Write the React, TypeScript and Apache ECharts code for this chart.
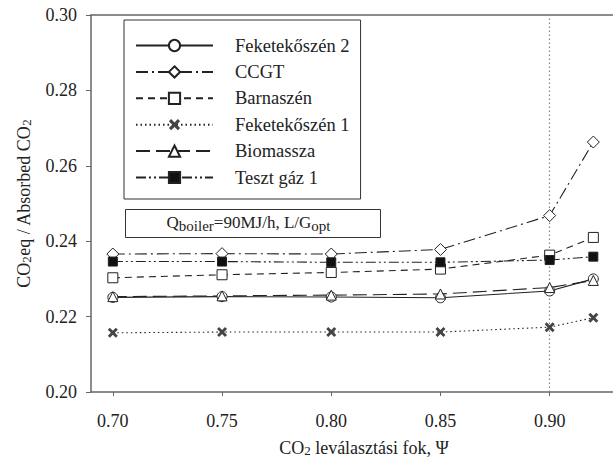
import React, { useEffect, useRef } from "react";
import * as echarts from "echarts";

const xValues = [0.70, 0.75, 0.80, 0.85, 0.90, 0.92];
const feketeKoszen2 = [0.2251, 0.2253, 0.2252, 0.2250, 0.2268, 0.2300];
const ccgt = [0.2366, 0.2367, 0.2366, 0.2378, 0.2468, 0.2663];
const barnaszen = [0.2303, 0.2311, 0.2317, 0.2326, 0.2363, 0.2410];
const feketeKoszen1 = [0.2157, 0.2159, 0.2159, 0.2159, 0.2172, 0.2197];
const biomassza = [0.2253, 0.2255, 0.2257, 0.2260, 0.2277, 0.2296];
const tesztGaz1 = [0.2346, 0.2346, 0.2344, 0.2344, 0.2350, 0.2359];
const xTicks = [0.70, 0.75, 0.80, 0.85, 0.90];
const markX = 0.90;

const FONT = "Liberation Serif";
const INK = "#222";

const xMarker =
  "path://M2,0 L5,3 L8,0 L10,2 L7,5 L10,8 L8,10 L5,7 L2,10 L0,8 L3,5 L0,2 Z";

function pairs(ys: number[]) {
  return xValues.map((x, i) => [x, ys[i]]);
}

export default function App() {
  const ref = useRef<HTMLDivElement>(null);
  useEffect(() => {
    if (!ref.current) return;
    const chart = echarts.init(ref.current, undefined, { renderer: "svg" });
    const mk = (
      name: string,
      ys: number[],
      symbol: string,
      fill: string,
      dash: any,
      extra: any = {}
    ) => ({
      name,
      type: "line",
      data: pairs(ys),
      symbol,
      symbolSize: 10,
      showAllSymbol: true,
      itemStyle: { color: fill, borderColor: INK, borderWidth: 1 },
      lineStyle: { color: INK, width: 1.1, type: dash },
      z: 3,
      ...extra,
    });
    const series: any[] = [
      mk("Feketekőszén 2", feketeKoszen2, "circle", "#fff", "solid", {
        markLine: {
          silent: true,
          symbol: ["none", "none"],
          label: { show: false },
          lineStyle: { color: "#888", type: [1.5, 2.5], width: 1.2 },
          data: [{ xAxis: markX }],
          z: 1,
        },
      }),
      mk("CCGT", ccgt, "diamond", "#fff", [12, 4, 2, 4], { symbolSize: 12 }),
      mk("Barnaszén", barnaszen, "rect", "#fff", [7, 5]),
      mk("Feketekőszén 1", feketeKoszen1, xMarker, "#444", [1.5, 3], {
        itemStyle: { color: "#444", borderWidth: 0 },
        symbolSize: 10,
      }),
      mk("Biomassza", biomassza, "triangle", "#fff", [14, 6]),
      mk("Teszt gáz 1", tesztGaz1, "rect", "#111", [10, 3, 2, 3, 2, 3], { symbolSize: 9 }),
    ];
    const subStyle = {
      fontSize: 13,
      verticalAlign: "bottom",
      fontFamily: FONT,
      color: INK,
      padding: [5, 0, 0, 0],
    };
    chart.setOption({
      animation: false,
      textStyle: { fontFamily: FONT },
      grid: { left: 91, right: 0, top: 15, bottom: 67, outerBoundsMode: "none" },
      legend: {
        orient: "vertical",
        left: 124,
        top: 20,
        itemWidth: 77,
        itemHeight: 14,
        itemGap: 7.4,
        padding: [16, 11, 12, 11],
        borderColor: "#333",
        borderWidth: 1,
        backgroundColor: "#fff",
        textStyle: {
          fontFamily: FONT,
          fontSize: 18.5,
          color: INK,
          padding: [0, 0, 0, 17],
        },
        data: series.map((s) => s.name),
      },
      xAxis: [
        {
          type: "value",
          min: 0.69,
          max: 0.929,
          name: "CO{s|2} leválasztási fok, Ψ",
          nameLocation: "middle",
          nameGap: 47,
          nameTextStyle: {
            fontFamily: FONT,
            fontSize: 18,
            color: INK,
            padding: [0, 0, 0, 24],
            rich: { s: subStyle },
          },
          axisLine: { lineStyle: { color: "#666", width: 1.5 } },
          axisTick: { customValues: xTicks, length: 4, lineStyle: { color: "#666" } },
          axisLabel: {
            customValues: xTicks,
            margin: 20,
            fontSize: 18,
            color: INK,
            fontFamily: FONT,
            formatter: (v: number) => v.toFixed(2),
          },
          splitLine: { show: false },
        },
        {
          type: "value",
          position: "top",
          min: 0.69,
          max: 0.929,
          axisLine: { lineStyle: { color: "#666", width: 1.5 } },
          axisTick: { show: false },
          axisLabel: { show: false },
          splitLine: { show: false },
        },
      ],
      yAxis: {
        type: "value",
        min: 0.2,
        max: 0.3,
        interval: 0.02,
        name: "CO{s|2}eq / Absorbed CO{s|2}",
        nameLocation: "middle",
        nameRotate: 90,
        nameGap: 58,
        nameTextStyle: {
          fontFamily: FONT,
          fontSize: 18,
          color: INK,
          rich: { s: subStyle },
        },
        axisLine: { show: true, lineStyle: { color: "#666", width: 1.5 } },
        axisTick: { show: true, length: 5, lineStyle: { color: "#666" } },
        axisLabel: {
          margin: 14,
          fontSize: 18,
          color: INK,
          fontFamily: FONT,
          formatter: (v: number) => v.toFixed(2),
        },
        splitLine: { show: false },
      },
      graphic: [
        {
          type: "group",
          left: 125,
          top: 209,
          children: [
            {
              type: "rect",
              shape: { x: 0, y: 0, width: 255, height: 28 },
              style: { fill: "#fff", stroke: "#333", lineWidth: 1 },
            },
            {
              type: "text",
              x: 123,
              y: 13,
              style: {
                text: "Q{s|boiler}=90MJ/h, L/G{s|opt}",
                fontFamily: FONT,
                fontSize: 17,
                fill: INK,
                align: "center",
                verticalAlign: "middle",
                rich: {
                  s: { fontSize: 15, fontFamily: FONT, fill: INK, verticalAlign: "bottom", padding: [6, 0, 0, 0] },
                },
              },
            },
          ],
        },
      ],
      series,
    });
    return () => chart.dispose();
  }, []);
  return (
    <div
      ref={ref}
      style={{ position: "absolute", left: 0, top: 0, width: 613, height: 459 }}
    />
  );
}
